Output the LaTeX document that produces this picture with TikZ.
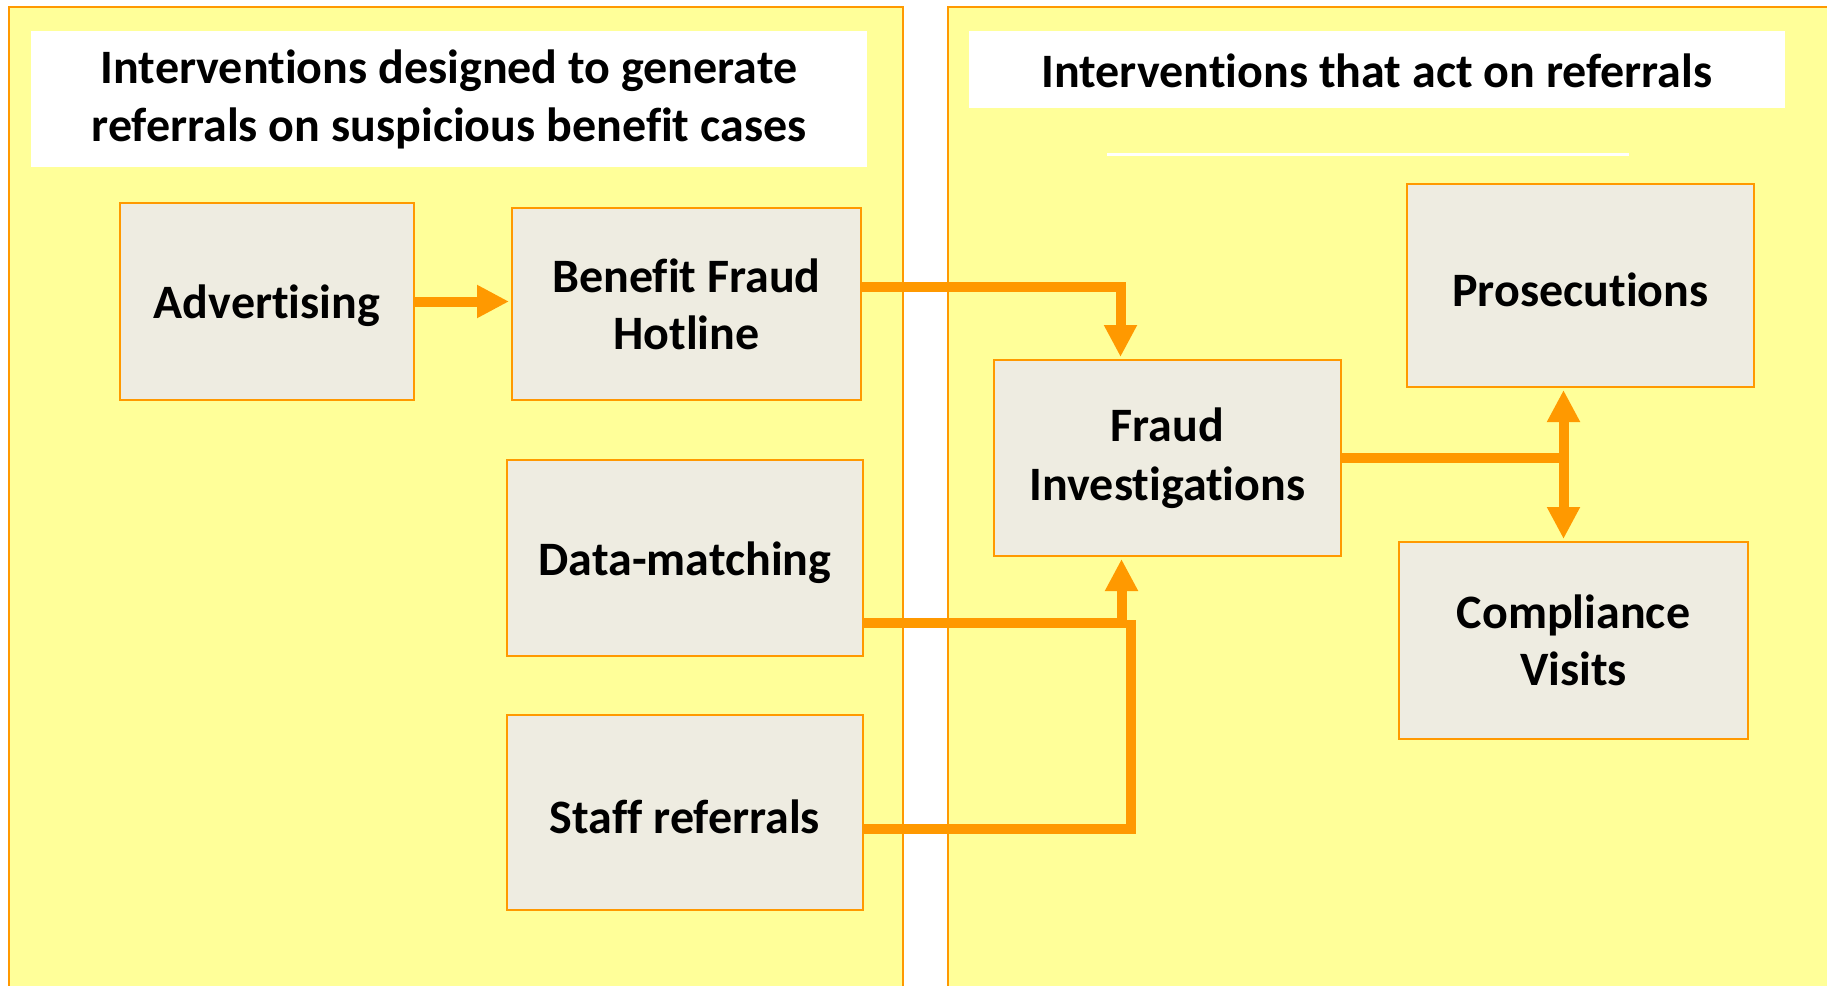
\documentclass[tikz,border=0pt]{standalone}
\usepackage{fontspec}
\setmainfont{Carlito}[Ligatures=CommonOff]
\usetikzlibrary{arrows.meta}
\definecolor{panelyellow}{HTML}{FFFF99}
\definecolor{boxgrey}{HTML}{EEECE1}
\definecolor{lineorange}{HTML}{FF9900}

\begin{document}
\begin{tikzpicture}[x=1pt,y=-1pt,
   box/.style={rectangle,draw=lineorange,line width=2pt,fill=boxgrey,align=center,inner sep=0pt,font=\fontsize{48}{57}\selectfont\bfseries,execute at begin node={\rule{0pt}{43pt}}},
   heading/.style={rectangle,fill=white,align=center,inner sep=0pt,font=\fontsize{48}{58}\selectfont\bfseries,execute at begin node={\rule{0pt}{37pt}}},
   flow/.style={lineorange,line width=10pt,shorten >= 2pt},
   >={Triangle[length=32pt,width=31pt]}]
   \useasboundingbox (0,0) rectangle (1827,985);
   \fill[panelyellow,draw=lineorange,line width=2pt] (9,7) rectangle (903,995);
   \fill[panelyellow,draw=lineorange,line width=2pt] (948,7) rectangle (1840,995);
   \node (leftttl) at (449,99) [heading,minimum width=836pt,minimum height=136pt,execute at begin node={\rule{0pt}{45pt}}] {Interventions designed to generate\\referrals on suspicious benefit cases};
   \node (rightttl) at (1377,69.5) [heading,minimum width=816pt,minimum height=77pt] {Interventions that act on referrals};
   \draw[white,line width=3pt] (1107,154) -- (1629,154);
   \node (advert) at (267,301.5) [box,minimum width=294pt,minimum height=197pt] {Advertising};
   \node (hotline) at (686.5,304) [box,minimum width=349pt,minimum height=192pt] {Benefit Fraud\\Hotline};
   \node (datamatch) at (685,558) [box,minimum width=356pt,minimum height=196pt] {Data-matching};
   \node (staff) at (685,812.5) [box,minimum width=356pt,minimum height=195pt] {Staff referrals};
   \node (fraud) at (1167.5,458) [box,minimum width=347pt,minimum height=196pt] {Fraud\\[2pt]Investigations};
   \node (prosec) at (1580.5,285.5) [box,minimum width=347pt,minimum height=203pt] {Prosecutions};
   \node (compliance) at (1573.5,640.5) [box,minimum width=349pt,minimum height=197pt] {Compliance\\Visits};
   \coordinate (merge) at (1131,618);
   \draw[flow,->] (advert.east) -- (advert.east -| hotline.west);
   \draw[flow,->] ([yshift=17pt]hotline.east) -| ([xshift=-47pt]fraud.north);
   \draw[flow,->] ([yshift=-65pt]datamatch.east) -| ([xshift=-46pt]fraud.south);
   \draw[flow] ([yshift=-16pt]staff.east) -| (merge);
   \draw[flow,->] (fraud.east) -| ([xshift=-17pt]prosec.south);
   \draw[flow,->] (fraud.east) -| ([xshift=-10pt]compliance.north);
\end{tikzpicture}
\end{document}
